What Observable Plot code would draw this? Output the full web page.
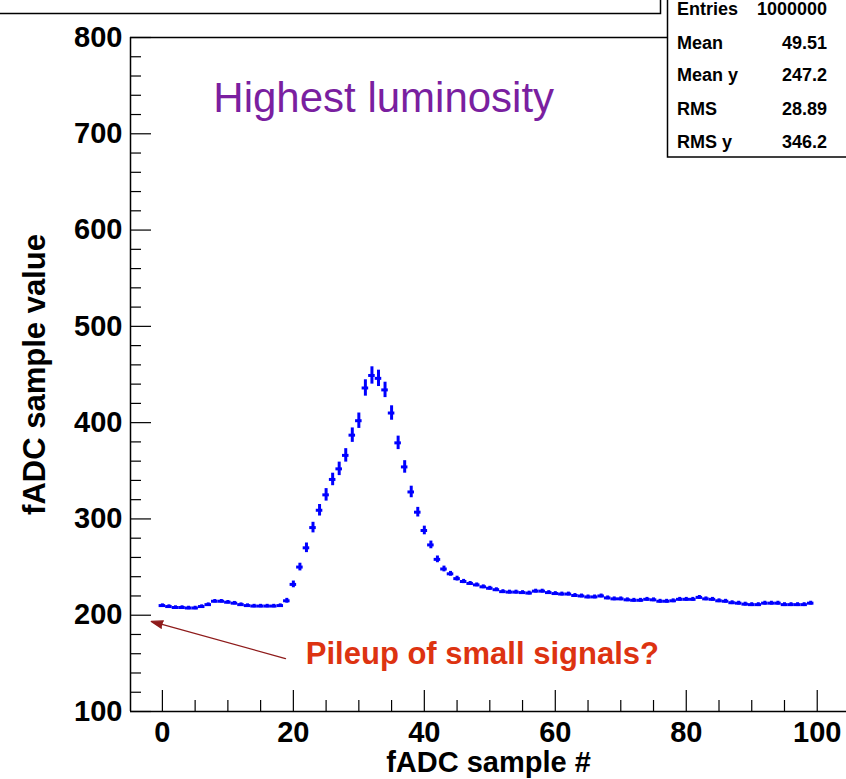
<!DOCTYPE html>
<html>
<head>
<meta charset="utf-8">
<script src="https://cdn.jsdelivr.net/npm/d3@7"></script>
<script src="https://cdn.jsdelivr.net/npm/@observablehq/plot@0.6"></script>
<style>
  html, body { margin: 0; padding: 0; background: #fff; }
  #chart { width: 846px; height: 779px; overflow: hidden; }
</style>
</head>
<body>
<div id="chart"></div>
<script>
// ---- data ----
const sampleValues = [
  210, 209, 208, 208, 207.5, 207.5, 209, 211, 214.5, 214.5,
  213.5, 212.5, 211, 210, 209.5, 209.5, 209.5, 209.5, 210, 215,
  232, 250, 270, 291, 309, 325, 341, 352, 366, 387,
  402, 436, 449, 446, 434, 410, 379, 354, 328, 307,
  288, 273, 258, 248, 243, 238, 235, 233, 231.5, 229.5,
  228, 226.5, 224.5, 224, 224, 223.5, 223, 225, 225, 223.5,
  222.5, 222, 222, 220.5, 220, 219, 219, 220, 218, 217,
  217, 216, 215.5, 215.5, 216.5, 216, 214.5, 214.5, 215, 216.5,
  216.5, 216.5, 218.5, 217, 216.5, 215, 214.5, 213, 212.5, 211.5,
  211, 211, 212.5, 212.5, 212.5, 211, 211, 211, 211, 212.5
];
const sampleErrors = [
  1.8, 1.8, 1.8, 1.8, 1.8, 1.8, 1.8, 1.8, 1.8, 1.8,
  1.8, 1.8, 1.8, 1.8, 1.8, 1.8, 1.8, 1.8, 1.8, 2.5,
  3.5, 4, 5, 5.5, 6, 6.5, 6.5, 7, 7, 7.5,
  8, 8.5, 9, 8.5, 8, 7.5, 7, 6.5, 6, 5,
  4.5, 4, 3.5, 3, 2.5, 2.5, 2.2, 2, 2, 2,
  2, 2, 2, 2, 2, 2, 2, 2, 2, 2,
  2, 2, 2, 2, 2, 2, 2, 2, 2, 2,
  2, 2, 2, 2, 2, 2, 2, 2, 2, 2,
  2, 2, 2, 2, 2, 2, 2, 2, 2, 2,
  2, 2, 2, 2, 2, 2, 2, 2, 2, 2
];
const sampleIndex = sampleValues.map((_, i) => i);

const xMajorTicks = [0, 20, 40, 60, 80, 100];
const xMinorTicks = [5, 10, 15, 25, 30, 35, 45, 50, 55, 65, 70, 75, 85, 90, 95];
const yMajorTicks = [100, 200, 300, 400, 500, 600, 700, 800];
const yMinorTicks = [120, 140, 160, 180, 220, 240, 260, 280, 320, 340, 360, 380,
  420, 440, 460, 480, 520, 540, 560, 580, 620, 640, 660, 680, 720, 740, 760, 780];

const xTitle = "fADC sample #";
const yTitle = "fADC sample value";
const headline = [{text: "Highest luminosity", x: 33.8, y: 737}];
const note = [{text: "Pileup of small signals?", x: 21.9, y: 160}];
const noteArrow = [{x1: 18.8, y1: 155, x2: -1.7, y2: 193.5}];

const statLabels = ["Entries", "Mean", "Mean y", "RMS", "RMS y"];
const statValues = ["1000000", "49.51", "247.2", "28.89", "346.2"];

// ---- build ----
const points = sampleIndex.map((s, i) => ({s, v: sampleValues[i], e: sampleErrors[i]}));

const xDomain = [-4.87, 104.47];
const yDomain = [100, 800];
const W = 846, H = 779, mL = 130, mR = 0, mT = 37, mB = 68;
const pxPerX = (W - mL - mR) / (xDomain[1] - xDomain[0]);
const pxPerY = (H - mT - mB) / (yDomain[1] - yDomain[0]);
const majorLen = 21, minorLen = 11;

const blue = "#0000ff";
const frameStroke = 1.5;

const plot = Plot.plot({
  width: W, height: H,
  marginLeft: mL, marginRight: mR, marginTop: mT, marginBottom: mB,
  style: {fontFamily: "'Liberation Sans', Arial, Helvetica, sans-serif", fontSize: "29px", fontWeight: "bold", color: "#000", background: "#fff"},
  x: {domain: xDomain},
  y: {domain: yDomain},
  marks: [
    // frame (left, bottom, top)
    Plot.ruleX([xDomain[0]], {y1: yDomain[0], y2: yDomain[1], stroke: "#000", strokeWidth: frameStroke}),
    Plot.ruleY([yDomain[0], yDomain[1]], {stroke: "#000", strokeWidth: frameStroke}),
    // x ticks (inside)
    Plot.ruleX(xMajorTicks, {y1: yDomain[0], y2: yDomain[0] + majorLen / pxPerY, stroke: "#000", strokeWidth: 1.2}),
    Plot.ruleX(xMinorTicks, {y1: yDomain[0], y2: yDomain[0] + minorLen / pxPerY, stroke: "#000", strokeWidth: 1.2}),
    // y ticks (inside)
    Plot.ruleY(yMajorTicks, {x1: xDomain[0], x2: xDomain[0] + majorLen / pxPerX, stroke: "#000", strokeWidth: 1.2}),
    Plot.ruleY(yMinorTicks, {x1: xDomain[0], x2: xDomain[0] + minorLen / pxPerX, stroke: "#000", strokeWidth: 1.2}),
    Plot.axisX({anchor: "bottom", ticks: xMajorTicks, tickSize: 0, tickPadding: 10, label: null, tickFormat: d => String(d)}),
    Plot.axisY({anchor: "left", ticks: yMajorTicks, tickSize: 0, tickPadding: 8, label: null, tickFormat: d => String(d)}),
    // axis titles
    Plot.text([xTitle], {frameAnchor: "bottom", lineAnchor: "middle", textAnchor: "middle", dy: 51, text: d => d, fontSize: 29, fontWeight: "bold"}),
    Plot.text([yTitle], {frameAnchor: "left", lineAnchor: "middle", textAnchor: "middle", dx: -95, rotate: -90, text: d => d, fontSize: 31, fontWeight: "bold"}),
    // data: error crosses
    Plot.ruleY(points, {y: "v", x1: d => d.s - 0.5, x2: d => d.s + 0.5, stroke: blue, strokeWidth: 3}),
    Plot.ruleX(points, {x: "s", y1: d => d.v - d.e, y2: d => d.v + d.e, stroke: blue, strokeWidth: 3}),
    // annotations
    Plot.text(headline, {x: "x", y: "y", text: "text", fill: "#7a1fa0", fontSize: 42, fontWeight: "normal", textAnchor: "middle"}),
    Plot.text(note, {x: "x", y: "y", text: "text", fill: "#dd3311", fontSize: 31, fontWeight: "bold", textAnchor: "start"}),
    Plot.arrow(noteArrow, {x1: "x1", y1: "y1", x2: "x2", y2: "y2", stroke: "#8e1b1b", fill: "#8e1b1b", strokeWidth: 1.3, headLength: 14, headAngle: 36})
  ]
});

const svg = d3.select(plot);

// title pave (cut off at the top of the picture)
svg.append("rect")
  .attr("x", -5).attr("y", -5).attr("width", 665.5).attr("height", 18.5)
  .attr("fill", "#fff").attr("stroke", "#000").attr("stroke-width", 1.5);

// statistics box
const sb = svg.append("g");
sb.append("rect")
  .attr("x", 667.5).attr("y", -5).attr("width", 200).attr("height", 162)
  .attr("fill", "#fff").attr("stroke", "#000").attr("stroke-width", 1.5);
const rowBaselines = [15, 49, 81, 115, 148];
statLabels.forEach((lab, i) => {
  sb.append("text").attr("x", 677).attr("y", rowBaselines[i])
    .attr("font-size", 18).attr("font-weight", "bold").attr("text-anchor", "start").text(lab);
  sb.append("text").attr("x", 827).attr("y", rowBaselines[i])
    .attr("font-size", 18).attr("font-weight", "bold").attr("text-anchor", "end").text(statValues[i]);
});

document.getElementById("chart").appendChild(plot);
</script>
</body>
</html>
